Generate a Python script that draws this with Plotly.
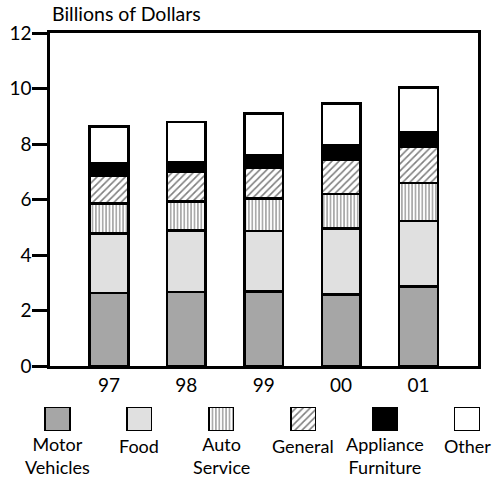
import plotly.graph_objects as go

years = ["97", "98", "99", "00", "01"]
motor_vehicles = [2.63, 2.67, 2.68, 2.57, 2.86]
food = [2.14, 2.22, 2.19, 2.39, 2.36]
auto_service = [1.08, 1.03, 1.16, 1.24, 1.37]
general = [1.01, 1.08, 1.12, 1.23, 1.31]
appliance_furniture = [0.43, 0.36, 0.43, 0.54, 0.54]
other = [1.34, 1.44, 1.52, 1.49, 1.60]

series_names = ["Motor Vehicles", "Food", "Auto Service", "General",
                "Appliance Furniture", "Other"]
legend_labels = [["Motor", "Vehicles"], ["Food"], ["Auto", "Service"],
                 ["General"], ["Appliance", "Furniture"], ["Other"]]
y_ticks = [0, 2, 4, 6, 8, 10, 12]

series_values = [motor_vehicles, food, auto_service, general,
                 appliance_furniture, other]

W, H = 504, 477
FONT = "Lato"
FS = 19


def fx(px):  # image pixel x -> paper fraction
    return px / W


def fy(py):  # image pixel y -> paper fraction
    return 1 - py / H


styles = [
    dict(color="#a6a6a6", pattern=None),
    dict(color="#e0e0e0", pattern=None),
    dict(color="white", pattern=dict(shape="|", size=3.4, solidity=0.33, fgcolor="black", bgcolor="white")),
    dict(color="white", pattern=dict(shape="/", size=5, solidity=0.32, fgcolor="black", bgcolor="white")),
    dict(color="black", pattern=None),
    dict(color="white", pattern=None),
]

fig = go.Figure()
for name, vals, st in zip(series_names, series_values, styles):
    marker = dict(color=st["color"], line=dict(color="black", width=2.5))
    if st["pattern"]:
        marker["pattern"] = st["pattern"]
    fig.add_trace(go.Bar(x=years, y=vals, name=name, marker=marker,
                         width=0.5, xaxis="x", yaxis="y", showlegend=False,
                         hoverinfo="skip"))

# legend swatches on a second, hidden axis pair
for i, (name, st) in enumerate(zip(series_names, styles)):
    marker = dict(color=st["color"], line=dict(color="black", width=1.5))
    if st["pattern"]:
        marker["pattern"] = st["pattern"]
    fig.add_trace(go.Bar(x=[i], y=[1], marker=marker, width=0.3,
                         xaxis="x2", yaxis="y2", showlegend=False,
                         hoverinfo="skip"))

annotations = [dict(text="Billions of Dollars", x=fx(50), y=fy(14),
                    xref="paper", yref="paper", xanchor="left", yanchor="middle",
                    showarrow=False, font=dict(family=FONT, size=FS + 0.5, color="black"))]
for i, lines in enumerate(legend_labels):
    centre = 446 if len(lines) == 1 else 455.5
    annotations.append(dict(text="<br>".join(lines), x=i, y=fy(centre),
                            xref="x2", yref="paper", xanchor="center",
                            yanchor="middle", showarrow=False, align="center",
                            font=dict(family=FONT, size=18, color="black")))

# legend swatch centres run from image x 57.5 to 467
step = (467 - 57.5) / 5
x2_lo = -57.5 / step
x2_hi = x2_lo + W / step

fig.update_layout(
    width=W, height=H, barmode="stack",
    margin=dict(l=0, r=0, t=0, b=0),
    paper_bgcolor="white", plot_bgcolor="white",
    font=dict(family=FONT, size=FS, color="black"),
    xaxis=dict(domain=[fx(50), fx(478)], range=[-0.762, 4.769], showline=True,
               mirror=True, linecolor="black", linewidth=2.5, ticks="",
               showgrid=False, zeroline=False, automargin=False,
               tickfont=dict(family=FONT, size=FS)),
    yaxis=dict(domain=[fy(366), fy(33)], range=[0, 12], tickvals=y_ticks,
               showline=True, mirror=True, linecolor="black", linewidth=2.5,
               ticks="outside", ticklen=15, tickwidth=2.5, tickcolor="black",
               ticklabelstandoff=-3,
               showgrid=False, zeroline=False, automargin=False,
               tickfont=dict(family=FONT, size=FS)),
    xaxis2=dict(domain=[0, 1], range=[x2_lo, x2_hi], visible=False,
                anchor="y2"),
    yaxis2=dict(domain=[fy(431), fy(407)], range=[0, 1],
                visible=False, anchor="x2"),
    annotations=annotations,
)

fig.write_html("out.html", config={"displayModeBar": False},
               post_script="document.body.style.margin='0px';")
